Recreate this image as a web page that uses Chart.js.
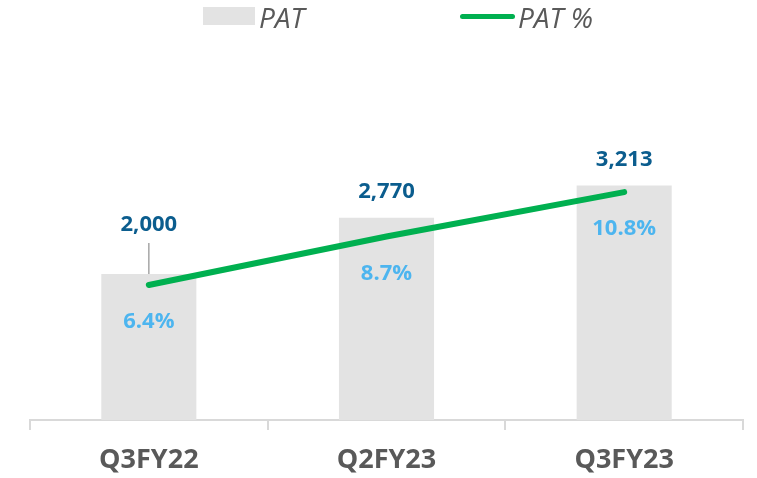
<!DOCTYPE html>
<html>
<head>
<meta charset="utf-8">
<script src="https://cdn.jsdelivr.net/npm/chart.js@4"></script>
<style>
  html, body { margin: 0; padding: 0; background: #fff; }
  #wrap { position: relative; width: 757px; height: 478px; }
  #legend { position: absolute; top: 0; left: 0; width: 757px; height: 40px; font-family: "Open Sans", sans-serif; font-style: italic; font-size: 28px; color: #595959; }
  .item { position: absolute; top: 0; height: 34px; line-height: 34px; }
  .box { position: absolute; left: 203px; top: 7px; width: 52px; height: 18px; background: #e3e3e3; }
  .ln { position: absolute; left: 460px; top: 14px; width: 55px; height: 5px; border-radius: 3px; background: #00b050; }
</style>
</head>
<body>
<div id="wrap">
  <canvas id="chart" width="757" height="478"></canvas>
  <div id="legend">
    <div class="box"></div>
    <div class="item" style="left:259px">PAT</div>
    <div class="ln"></div>
    <div class="item" style="left:518px">PAT %</div>
  </div>
</div>
<script>
const quarters = ['Q3FY22', 'Q2FY23', 'Q3FY23'];
const patValues = [2000, 2770, 3213];
const patPercent = [6.4, 8.7, 10.8];
const patLabels = ['2,000', '2,770', '3,213'];
const percentLabels = ['6.4%', '8.7%', '10.8%'];

// draws the value labels and the little leader line on the first bar
const labelPlugin = {
  id: 'labels',
  afterDatasetsDraw(chart) {
    const ctx = chart.ctx;
    const bars = chart.getDatasetMeta(1).data;
    const pts = chart.getDatasetMeta(0).data;
    ctx.save();
    ctx.textAlign = 'center';
    ctx.textBaseline = 'middle';
    ctx.font = 'bold 22px "Open Sans"';
    bars.forEach((bar, i) => {
      let y = bar.y - 26;
      if (i === 0) {
        y = bar.y - 49;
        ctx.strokeStyle = '#a6a6a6';
        ctx.lineWidth = 1.5;
        ctx.beginPath();
        ctx.moveTo(bar.x, y + 18);
        ctx.lineTo(bar.x, bar.y);
        ctx.stroke();
      }
      ctx.fillStyle = '#0b5d8e';
      ctx.fillText(patLabels[i], bar.x, y);
    });
    pts.forEach((p, i) => {
      ctx.fillStyle = '#4db5ef';
      ctx.fillText(percentLabels[i], p.x, p.y + 37);
    });
    ctx.restore();
  }
};

const ctx = document.getElementById('chart').getContext('2d');
new Chart(ctx, {
  data: {
    labels: quarters,
    datasets: [{
      type: 'line',
      label: 'PAT %',
      data: patPercent,
      yAxisID: 'y1',
      borderColor: '#00b050',
      borderWidth: 6,
      borderCapStyle: 'round',
      pointRadius: 0,
      fill: false,
      order: 0
    }, {
      type: 'bar',
      label: 'PAT',
      data: patValues,
      yAxisID: 'y',
      backgroundColor: '#e3e3e3',
      barPercentage: 0.4,
      categoryPercentage: 1,
      order: 1
    }]
  },
  options: {
    responsive: false,
    animation: false,
    layout: { padding: { left: 30, right: 14, top: 55, bottom: 0 } },
    plugins: { legend: { display: false }, tooltip: { enabled: false } },
    scales: {
      x: {
        offset: true,
        afterFit(scale) { scale.height = 58; },
        grid: { offset: true, drawOnChartArea: false, tickLength: 10, color: '#d9d9d9', lineWidth: 2 },
        border: { color: '#d9d9d9', width: 2 },
        ticks: { color: '#595959', padding: 14, font: { family: 'Open Sans', size: 27, weight: 'bold' } }
      },
      y: { display: false, min: 0, max: 5000 },
      y1: { display: false, min: 0, max: 17.3, position: 'right' }
    }
  },
  plugins: [labelPlugin]
});
</script>
</body>
</html>
